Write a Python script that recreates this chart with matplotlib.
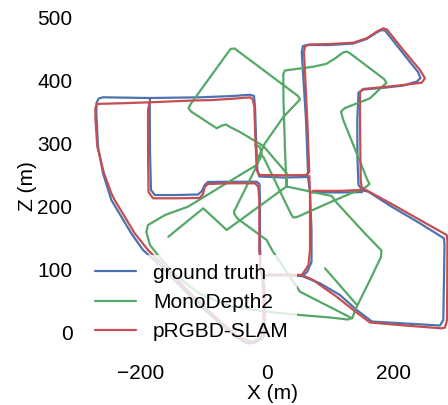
"""
Trajectories: ground truth vs MonoDepth2 vs pRGBD-SLAM (X-Z plane).
"""
import numpy as np
import matplotlib
matplotlib.use("Agg")
import matplotlib.pyplot as plt

nan = np.nan

# ground truth (segments split by nan)
gt_x = [55.7, 28.8, 1.9, -6.0, -3.6, -2.9, -2.9, -7.6, -18.7, -29.8, -45.6, -63.0, -94.7,
        -126.4, -159.6, -196.0, -214.6, -230.4, -246.2, -259.4, -267.3, -270.0, -269.7,
        -266.2, -259.4, -185.0, -105.8, -53.0, -26.6, -20.3, -18.7, -17.1, -15.0, -11.9,
        26.1, 63.2, 65.2, 62.1, 55.3, 57.3, 63.7, 100.1, 137.0, 158.2, 174.0, 181.9, 187.2,
        214.1, 239.4, 243.4, 237.8, 216.1, 189.9, 152.8, 145.2, 143.3, 143.6, 145.2, 152.3,
        160.7, 197.8, 242.6, 280.6, 281.4, 280.6, 279.5, 274.3, 218.8, 166.6, 142.4, 115.9,
        84.2, 73.2, 55.7, nan,
        -185.0, -185.4, -185.0, -183.4, -177.5, -145.4, -108.9, -102.6, -98.3, -93.1, -58.3,
        -16.0, -11.6, -10.8, -10.8, -10.0, -6.0, nan,
        65.2, 68.4, 70.8, 70.8, 63.7, 55.7, nan,
        70.0, 77.9, 115.9, 150.7]
gt_z = [89.4, 90.2, 90.2, 87.8, 67.1, 19.5, -2.7, -10.6, -16.2, -17.8, -9.8, 3.7, 32.2,
        62.4, 97.3, 130.6, 157.1, 183.5, 210.0, 252.4, 294.6, 347.6, 364.0,
        371.1, 373.0, 371.9, 373.0, 375.1, 377.1, 375.1, 358.1, 310.5, 257.6, 247.3,
        245.7, 246.5, 254.4, 337.0, 444.9, 454.4, 456.0, 456.0, 458.4, 465.6, 475.9, 479.8, 479.0,
        444.9, 413.2, 403.7, 398.1, 391.7, 388.6, 385.4, 380.6, 337.0, 273.5, 233.8, 225.1,
        223.2, 199.4, 173.0, 149.2, 138.6, 83.0, 19.5, 10.8, 14.0, 17.1, 35.4, 59.2,
        77.8, 82.2, 89.4, nan,
        371.9, 360.8, 289.4, 225.9, 217.9, 217.9, 218.7, 224.3, 233.8, 238.6, 239.0,
        239.0, 235.4, 210.0, 146.5, 98.9, 87.8, nan,
        246.5, 222.7, 162.4, 111.6, 95.7, 89.4, nan,
        222.0, 222.0, 222.0, 222.5]

# MonoDepth2
mono_x = [-156.0, -100.6, -63.5, 25.7, 31.2, 68.4, 102.8, 110.4, 152.8, 181.6, 180.8, 163.4,
          142.4, 135.7, 128.6, 100.1, 52.6, 5.1, -53.5, -105.8, -145.4, -173.9, -185.0,
          -190.8, -188.1, -161.2, -124.8, -53.0, -16.0, -7.6, -10.8, -18.7, nan,
          31.2, 31.5, -5.5, -42.4, -58.3, -64.6, -70.9, -79.3, -120.0, -124.0, -120.0,
          -57.5, -51.1, 49.4, 52.6, 26.1, -2.9, -13.9, -16.0, -51.9, -51.1, -45.6, -0.2,
          8.2, 52.6, 131.0, 134.9, nan,
          31.2, 28.8, 26.4, 26.1, 28.8, 52.6, 73.6, 93.7, 108.0, 120.7, 127.0, 133.3, 185.6,
          189.5, 184.0, 163.4, 123.8, 117.5, 121.1, 158.7, 162.6, 157.1, 104.8, 47.8, 42.0,
          38.3, -5.5, nan,
          92.2, 142.8]
mono_z = [151.7, 196.8, 162.4, 227.5, 231.4, 223.5, 216.4, 206.0, 159.7, 129.8, 119.5, 83.0,
          40.6, 23.5, 20.3, 23.5, 27.5, 32.2, 40.2, 60.8, 91.0, 124.3, 138.6,
          159.2, 170.3, 186.2, 199.4, 243.3, 265.6, 281.4, 294.1, 297.3, nan,
          231.4, 252.4, 295.7, 317.9, 325.9, 329.8, 328.3, 323.8, 350.5, 356.0, 363.2,
          449.7, 450.5, 375.1, 369.5, 341.7, 300.0, 276.7, 264.0, 191.7, 187.0, 179.8, 146.5,
          130.6, 64.4, 24.3, 21.9, nan,
          231.4, 289.4, 368.7, 410.0, 415.6, 418.7, 421.6, 425.9, 434.6, 444.1, 445.7, 441.7, 402.1,
          395.7, 391.0, 371.4, 356.0, 350.5, 337.0, 243.3, 235.4, 230.6, 208.4, 183.0, 182.2,
          187.8, 278.7, nan,
          101.6, 43.3]

# pRGBD-SLAM
ours_x = [55.7, 28.8, 1.9, -7.6, -6.0, -5.2, -6.0, -12.4, -23.4, -42.4, -58.3, -89.9, -121.6,
          -154.9, -188.1, -209.2, -225.0, -240.9, -246.2, -257.8, -268.4, -271.3, -271.6,
          -268.9, -264.1, -230.4, -185.4, -124.8, -85.2, -53.0, -26.6, -22.3, -19.8, -18.2,
          -16.0, -11.9, 26.1, 63.2, 67.3, 64.1, 58.9, 60.5, 66.8, 100.1, 137.0, 158.2, 174.0,
          184.5, 190.3, 216.1, 242.6, 250.5, 245.3, 216.1, 189.9, 152.8, 147.6, 147.6, 148.7,
          150.3, 155.5, 197.8, 242.6, 284.9, 286.1, 285.8, 285.4, 282.2, 277.0, 218.8, 163.4,
          137.0, 110.7, 84.2, 73.6, 55.7, nan,
          -185.4, -188.1, -188.1, -187.3, -180.2, -145.4, -106.3, -101.0, -98.3, -93.1, -58.3,
          -18.7, -13.5, -11.9, -11.9, -10.0, -7.6, nan,
          67.3, 68.4, 68.4, 66.0, 55.7, nan,
          73.2, 115.9, 150.3]
ours_z = [91.0, 91.7, 91.7, 89.4, 67.1, 19.5, -1.1, -10.6, -15.4, -9.0, 3.7, 32.2, 62.4,
          97.3, 130.6, 157.1, 183.5, 210.0, 220.6, 252.4, 294.6, 337.0, 356.0,
          361.9, 362.7, 363.5, 365.1, 367.6, 368.7, 370.8, 373.0, 369.8, 358.1, 310.5,
          257.6, 249.7, 249.2, 249.7, 254.4, 337.0, 444.9, 453.6, 456.8, 457.6, 459.7, 466.7, 477.1,
          482.5, 480.6, 448.1, 416.4, 403.2, 396.2, 392.5, 389.8, 386.2, 381.4, 337.0, 241.7,
          229.0, 226.7, 203.7, 178.3, 154.4, 143.3, 83.0, 19.5, 7.6, 6.3, 10.8, 15.6,
          35.4, 56.5, 75.1, 83.0, 91.0, nan,
          365.1, 352.9, 289.4, 222.7, 212.7, 212.7, 213.2, 219.5, 230.6, 235.4, 236.5,
          236.5, 231.1, 210.0, 130.6, 98.9, 89.4, nan,
          248.1, 222.7, 130.6, 106.8, 91.0, nan,
          224.5, 224.5, 225.9]

labels = ['ground truth', 'MonoDepth2', 'pRGBD-SLAM']
colors = ['#4C72B0', '#55A868', '#C44E52']


def main():
    plt.rcParams['font.family'] = ['Liberation Sans', 'DejaVu Sans']
    fig = plt.figure(figsize=(4.48, 4.05), dpi=100)
    ax = fig.add_axes([0.1741, 0.1160, 0.8705, 0.8469])

    line_kw = dict(lw=1.6, solid_joinstyle='round', solid_capstyle='round')
    ax.plot(gt_x, gt_z, color=colors[0], label=labels[0], **line_kw)
    ax.plot(mono_x, mono_z, color=colors[1], label=labels[1], **line_kw)
    ax.plot(ours_x, ours_z, color=colors[2], label=labels[2], **line_kw)

    ax.set_xlim(-299, 318.6)
    ax.set_ylim(-40.8, 503.6)
    ax.set_xticks([-200, 0, 200])
    ax.set_yticks([0, 100, 200, 300, 400, 500])
    ax.tick_params(length=0, labelsize=15, pad=4)
    for s in ax.spines.values():
        s.set_visible(False)
    ax.set_xlabel('X (m)', fontsize=15, labelpad=1)
    ax.set_ylabel('Z (m)', fontsize=15, labelpad=0.5)

    ax.legend(loc='lower left', fontsize=15, handlelength=2, handletextpad=0.8,
              labelspacing=0.5, borderpad=0.4, borderaxespad=0.4,
              frameon=True, framealpha=0.8, edgecolor='none', facecolor='white')

    fig.savefig('out.png', dpi=100)


if __name__ == "__main__":
    main()
